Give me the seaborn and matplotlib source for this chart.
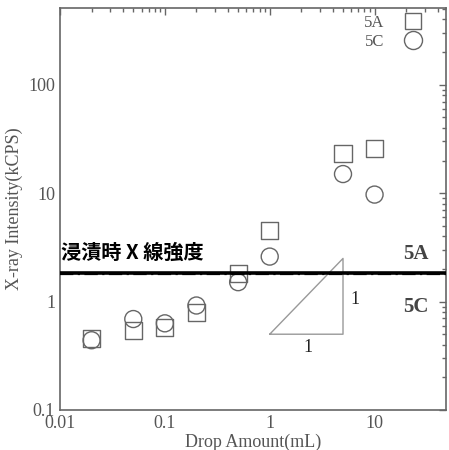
import matplotlib
matplotlib.use("Agg")
import matplotlib.pyplot as plt
import matplotlib.ticker as mticker
from matplotlib.lines import Line2D
import numpy as np
import pandas as pd
import seaborn as sns

# Drop amount (mL) and measured X-ray intensity (kCPS)
drop_ml = [0.02, 0.05, 0.1, 0.2, 0.5, 1, 5, 10]
intensity_5a = [0.46, 0.54, 0.58, 0.80, 1.82, 4.5, 23, 26]
intensity_5c = [0.44, 0.69, 0.63, 0.92, 1.51, 2.6, 15, 9.7]
series_names = ["5A", "5C"]

# Intensity when immersed (reference levels)
immersion_5a = 1.85
immersion_5c = 1.80

# Slope-1 guide triangle
tri_x = [1, 5]
tri_y = [0.5, 2.5]

x_ticks = [0.01, 0.1, 1, 10]
x_ticklabels = ["0.01", "0.1", "1", "10"]
y_ticks = [0.1, 1, 10, 100]
y_ticklabels = ["0.1", "1", "10", "100"]

df = pd.DataFrame({
    "drop": drop_ml * 2,
    "intensity": intensity_5a + intensity_5c,
    "sample": [series_names[0]] * len(drop_ml) + [series_names[1]] * len(drop_ml),
})

sns.set_style("white")
plt.rcParams["font.family"] = ["Liberation Serif", "DejaVu Serif"]

gray = "#666666"
fig = plt.figure(figsize=(4.49, 4.5), dpi=100)
ax = fig.add_axes([60 / 449, 40 / 450, 386 / 449, 402 / 450])

sns.scatterplot(
    data=df, x="drop", y="intensity", style="sample",
    markers={"5A": "s", "5C": "o"}, s=150, facecolor="none",
    edgecolor=gray, linewidth=1.0, ax=ax, legend=False,
)

ax.set_xscale("log")
ax.set_yscale("log")
ax.set_xlim(0.01, 48)
ax.set_ylim(0.1, 510)

# Immersion intensity lines
ax.axhline(immersion_5a, color="black", lw=2.6, zorder=3)
ax.axhline(immersion_5c, color="black", lw=1.6, ls=(0, (6, 2, 1, 2)), zorder=3)

# Slope triangle
ax.plot([tri_x[0], tri_x[1], tri_x[1], tri_x[0]],
        [tri_y[0], tri_y[0], tri_y[1], tri_y[0]],
        color="#999999", lw=1.0)
ax.text(5.9, 1.05, "1", fontsize=13, ha="left", va="center", color="#222222")
ax.text(2.3, 0.375, "1", fontsize=13, ha="center", va="center", color="#222222")

ax.text(0.0102, 2.25, "浸漬時 X 線強度", fontsize=14.5, fontweight="bold",
        family=["Noto Sans CJK JP", "DejaVu Sans"], ha="left", va="bottom",
        color="black")
ax.text(25, 2.2, "5A", fontsize=15, fontweight="bold", ha="center",
        va="bottom", color="#444444")
ax.text(25, 0.90, "5C", fontsize=15, fontweight="bold", ha="center",
        va="center", color="#444444")

# Legend
handles = [
    Line2D([], [], marker="s", ls="none", ms=12, mfc="none", mec=gray, mew=1.0),
    Line2D([], [], marker="o", ls="none", ms=13, mfc="none", mec=gray, mew=1.0),
]
ax.legend(handles, series_names, loc="upper right", frameon=False,
          markerfirst=False, fontsize=12, handletextpad=0.7,
          labelspacing=0.2, borderaxespad=0.0,
          labelcolor="#555555", bbox_to_anchor=(0.975, 1.0))

ax.set_xticks(x_ticks)
ax.set_xticklabels(x_ticklabels)
ax.set_yticks(y_ticks)
ax.set_yticklabels(y_ticklabels)
ax.xaxis.set_minor_locator(mticker.LogLocator(base=10, subs=np.arange(2, 10)))
ax.yaxis.set_minor_locator(mticker.LogLocator(base=10, subs=np.arange(2, 10)))
ax.xaxis.set_minor_formatter(mticker.NullFormatter())
ax.yaxis.set_minor_formatter(mticker.NullFormatter())
ax.tick_params(which="both", direction="in", top=True, right=True,
               color=gray, labelsize=13, labelcolor="#555555")
ax.tick_params(which="major", length=5, width=1)
ax.tick_params(which="minor", length=3, width=1)
for sp in ax.spines.values():
    sp.set_color(gray)
    sp.set_linewidth(1.2)

ax.set_xlabel("Drop Amount(mL)", fontsize=13, color="#555555", labelpad=1)
ax.set_ylabel("X-ray Intensity(kCPS)", fontsize=13, color="#555555", labelpad=4)

fig.savefig("out.png", dpi=100)
